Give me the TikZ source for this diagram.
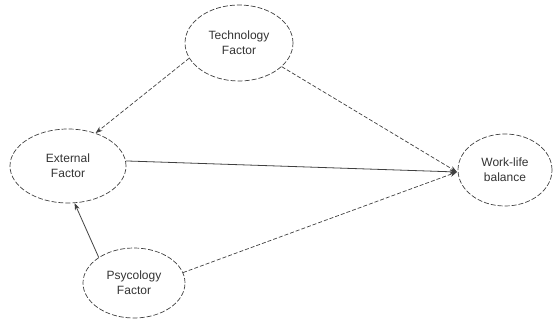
\documentclass[tikz,border=0pt]{standalone}
\usepackage{fontspec}
\setmainfont{Liberation Sans}
\usetikzlibrary{arrows.meta,shapes.geometric}
\begin{document}
\begin{tikzpicture}[x=1pt,y=-1pt,
  factor/.style={ellipse,draw=black!75,line width=0.7pt,dash pattern=on 5pt off 2pt,
    inner sep=0pt,align=center,text=black!80,font=\fontsize{12}{15}\selectfont},
  dashlink/.style={draw=black!75,line width=0.7pt,dash pattern=on 4pt off 2pt,-{Stealth[length=7pt,width=5pt]}},
  solidlink/.style={draw=black!75,line width=0.8pt,-{Stealth[length=7pt,width=5pt]}}]
\useasboundingbox (0,0) rectangle (554,323);
\node[factor,minimum width=108pt,minimum height=76pt] (tech) at (239,43) {Technology\\Factor};
\node[factor,minimum width=116pt,minimum height=74pt] (ext) at (68,166) {External\\Factor};
\node[factor,minimum width=94pt,minimum height=72pt] (wlb) at (505,170) {Work-life\\balance};
\node[factor,minimum width=102pt,minimum height=70pt] (psy) at (134,283) {Psycology\\Factor};
\coordinate (hub) at (457,172);
\draw[dashlink] (tech.197) -- (ext.50);
\draw[dashlink] (tech.331) -- (hub);
\draw[solidlink] (ext.5) -- (hub);
\draw[dashlink] (psy.12) -- (hub);
\draw[solidlink] (psy.144) -- (ext.280);
\end{tikzpicture}
\end{document}
